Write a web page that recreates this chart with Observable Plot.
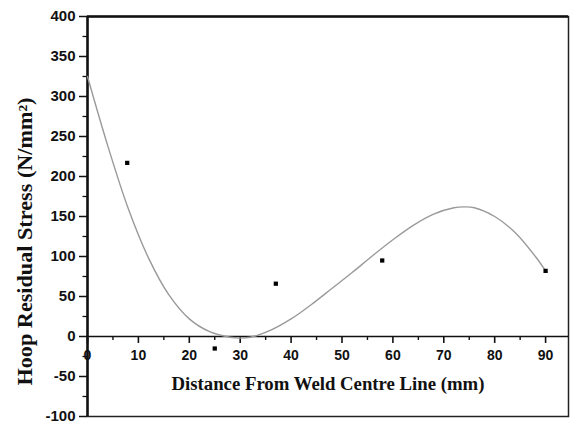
<!DOCTYPE html>
<html>
<head>
<meta charset="utf-8">
<script src="https://cdn.jsdelivr.net/npm/d3@7"></script>
<script src="https://cdn.jsdelivr.net/npm/@observablehq/plot@0.6"></script>
<style>
  html, body { margin: 0; padding: 0; background: #fff; }
  svg { display: block; }
</style>
</head>
<body>
<div id="chart"></div>
<script>
// measured points
const ptX = [7.8, 25, 37, 57.9, 90];
const ptY = [217, -15, 66, 95, 82];
// fitted curve
const curveX = [0, 4, 8, 12, 16, 20, 24, 28, 30, 32, 36, 40, 44, 48, 52, 56, 60, 64, 68, 72, 74, 76, 80, 84, 88, 90];
const curveY = [325, 238, 160, 98, 52, 22, 6, -1, -2, -1, 8, 22, 40, 60, 80, 101, 121, 139, 153, 161, 162, 161, 150, 130, 100, 82];
// ticks
const xMajor = [0, 10, 20, 30, 40, 50, 60, 70, 80, 90];
const xMinor = [5, 15, 25, 35, 45, 55, 65, 75, 85];
const yMajor = [-100, -50, 0, 50, 100, 150, 200, 250, 300, 350, 400];
const yMinor = [-75, -25, 25, 75, 125, 175, 225, 275, 325, 375];
const xTitle = "Distance From Weld Centre Line (mm)";
const yTitle = "Hoop Residual Stress (N/mm²)";

const points = ptX.map((x, i) => ({x, y: ptY[i]}));
const curve = curveX.map((x, i) => ({x, y: curveY[i]}));

const tickFont = "'Liberation Sans', Arial, sans-serif";
const titleFont = "'Liberation Serif', 'Times New Roman', serif";

const chart = Plot.plot({
  width: 570,
  height: 423,
  marginLeft: 87,
  marginRight: 2,
  marginTop: 16,
  marginBottom: 7,
  style: {background: "#fff", color: "#111"},
  x: {domain: [0, 94.5], axis: null},
  y: {domain: [-100, 400], axis: null},
  marks: [
    Plot.frame({stroke: "#222", strokeWidth: 1.5}),
    // y axis: major ticks with labels, minor ticks
    Plot.axisY(yMajor, {anchor: "left", tickSize: 8, tickPadding: 4, strokeWidth: 1.5,
      fontSize: 15, fontWeight: "bold", fontFamily: tickFont, label: null, tickFormat: d => String(d)}),
    Plot.axisY(yMinor, {anchor: "left", tickSize: 4.5, strokeWidth: 1.3, tickFormat: () => "", label: null}),
    // thick left and top lines
    Plot.ruleX([0], {stroke: "#111", strokeWidth: 2.5}),
    Plot.ruleY([400], {stroke: "#111", strokeWidth: 2.5}),
    // x axis at y = 0
    Plot.ruleY([0], {stroke: "#111", strokeWidth: 1.4}),
    Plot.ruleX(xMajor, {x: d => d, y1: () => 0, y2: () => -8.7, stroke: "#111", strokeWidth: 1.6}),
    Plot.ruleX(xMinor, {x: d => d, y1: () => 0, y2: () => -5, stroke: "#111", strokeWidth: 1.4}),
    Plot.text(xMajor, {x: d => d, y: () => 0, dy: 19, text: d => String(d),
      fontSize: 14, fontWeight: "bold", fontFamily: tickFont, fill: "#111"}),
    // fitted curve
    Plot.line(curve, {x: "x", y: "y", curve: "catmull-rom", stroke: "#9a9a9a", strokeWidth: 1.4}),
    // measured points
    Plot.dot(points, {x: "x", y: "y", symbol: "square", r: 2.4, fill: "#000", stroke: null}),
    // titles
    Plot.text([xTitle], {frameAnchor: "bottom", text: d => d, dy: -32, lineAnchor: "middle", textAnchor: "middle",
      fontSize: 18, fontWeight: "bold", fontFamily: titleFont, fill: "#111", className: "xtitle"}),
    Plot.text([yTitle], {frameAnchor: "left", text: d => d, dx: -62, dy: 25, rotate: -90, lineAnchor: "middle", textAnchor: "middle",
      fontSize: 20, fontWeight: "bold", fontFamily: titleFont, fill: "#111", className: "ytitle"})
  ]
});
document.getElementById("chart").appendChild(chart);
// stretch titles to the widths seen in the picture
d3.select(chart).selectAll(".xtitle text").attr("textLength", 313).attr("lengthAdjust", "spacingAndGlyphs");
d3.select(chart).selectAll(".ytitle text").attr("textLength", 288).attr("lengthAdjust", "spacingAndGlyphs");
</script>
</body>
</html>
